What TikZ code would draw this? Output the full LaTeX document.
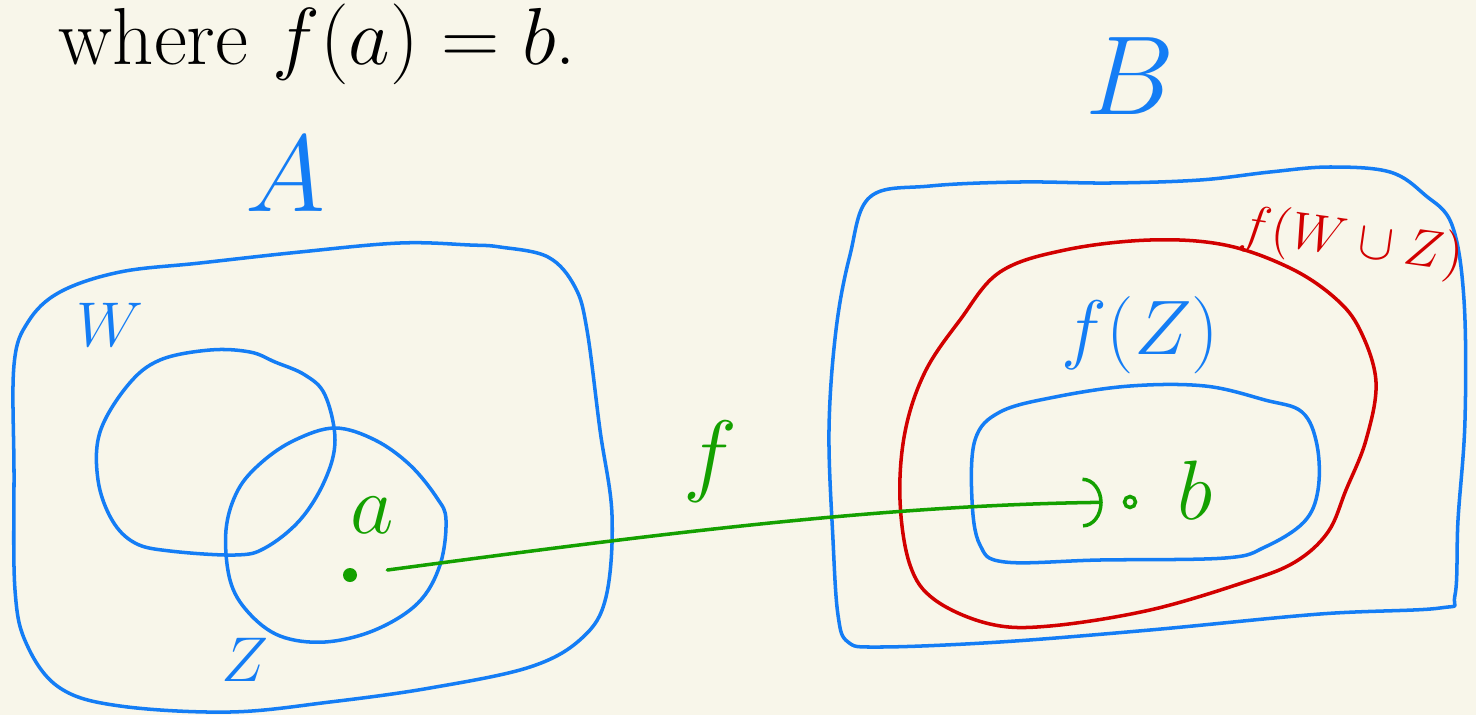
\RequirePackage{fix-cm}
\documentclass[tikz,border=0pt]{standalone}
\usepackage{amsmath,amssymb,xcolor}
\definecolor{pnpaper}{RGB}{248,246,234}
\definecolor{pnblue}{RGB}{20,125,245}
\definecolor{pnred}{RGB}{210,0,0}
\definecolor{pngreen}{RGB}{20,160,0}
\usetikzlibrary{arrows.meta,positioning,calc}
\tikzset{
  bluestroke/.style={draw=pnblue, line width=1pt, line join=round, line cap=round},
  redstroke/.style={draw=pnred, line width=1pt, line join=round, line cap=round},
  handlabel/.style={inner sep=0pt, font=\fontsize{#1}{#1}\selectfont},
  maparrow/.style={draw=pngreen, line width=1pt, line cap=round, -{Arc Barb[length=2mm,width=5mm]}},
}

\begin{document}
\begin{tikzpicture}[x=0.1mm,y=-0.1mm]
  \fill[pnpaper] (0,0) rectangle (1476,715);
  \useasboundingbox (0,0) rectangle (1476,715);

  %% heading line
  \node[handlabel=23, anchor=base west] (where) at (58,64) {where $f(a)=b$.};

  %% set A with W and Z
  \draw[bluestroke] plot[smooth cycle, tension=0.6] coordinates {(470,245) (400,243) (300,252) (200,263) (120,272) (60,292) (28,322) (14,365) (14,470) (15,590) (27,645) (60,688) (120,706) (230,712) (330,702) (430,688) (530,667) (582,638) (606,597) (612,515) (600,430) (587,330) (575,287) (548,257) (500,247)};
  \draw[bluestroke] plot[smooth cycle, tension=0.6] coordinates {(210,350) (160,360) (128,385) (100,432) (98,480) (112,520) (135,543) (170,551) (235,555) (265,548) (300,520) (325,480) (335,440) (325,395) (305,375) (275,362) (250,352)};
  \draw[bluestroke] plot[smooth cycle, tension=0.6] coordinates {(335,428) (295,440) (262,462) (238,490) (226,530) (230,580) (248,612) (280,636) (325,642) (375,630) (418,603) (440,565) (446,520) (437,498) (410,465) (375,440)};
  \node[handlabel=31, text=pnblue] (setA) at (285,174) {$A$};
  \node[handlabel=18, text=pnblue] (labW) at (110,325) {$W$};
  \node[handlabel=18, text=pnblue] (labZ) at (245,660) {$Z$};

  %% set B with images
  \draw[bluestroke] plot[smooth cycle, tension=0.6] coordinates {(870,197) (930,186) (1020,182) (1110,183) (1200,180) (1270,172) (1330,167) (1390,172) (1425,195) (1452,225) (1464,300) (1465,420) (1458,520) (1455,595) (1440,608) (1320,614) (1150,630) (1000,642) (880,647) (848,642) (838,615) (833,540) (829,430) (836,330) (850,255)};
  \draw[redstroke] plot[smooth cycle, tension=0.6] coordinates {(960,320) (1000,272) (1065,250) (1150,240) (1225,245) (1290,268) (1335,298) (1360,330) (1376,382) (1366,440) (1346,490) (1328,532) (1295,562) (1245,582) (1150,610) (1050,626) (990,624) (935,600) (910,565) (900,500) (905,432) (925,372)};
  \draw[bluestroke] plot[smooth cycle, tension=0.6] coordinates {(1000,412) (1055,397) (1130,386) (1205,386) (1265,400) (1302,412) (1317,445) (1318,490) (1304,522) (1265,547) (1225,558) (1100,560) (1005,562) (980,545) (972,500) (975,440)};
  \node[handlabel=32, text=pnblue] (setB) at (1130,76) {$B$};
  \node[handlabel=15, text=pnred, rotate=-8] (labfWZ) at (1352,243) {$f(W\cup Z)$};
  \node[handlabel=22, text=pnblue] (labfZ) at (1140,335) {$f(Z)$};

  %% the map f
  \node[circle, fill=pngreen, minimum size=1.4mm, inner sep=0pt] (pta) at (350,575) {};
  \node[circle, draw=pngreen, line width=1pt, minimum size=1.1mm, inner sep=0pt] (ptb) at (1130,502) {};
  \node[handlabel=24, text=pngreen] (laba) at (372,515) {$a$};
  \node[handlabel=24, text=pngreen] (labb) at (1195,490) {$b$};
  \node[handlabel=26, text=pngreen] (labf) at (710,462) {$f$};
  \draw[maparrow, shorten <=3mm, shorten >=2mm] (pta) .. controls (650,535) and (880,505) .. (ptb);
\end{tikzpicture}
\end{document}
